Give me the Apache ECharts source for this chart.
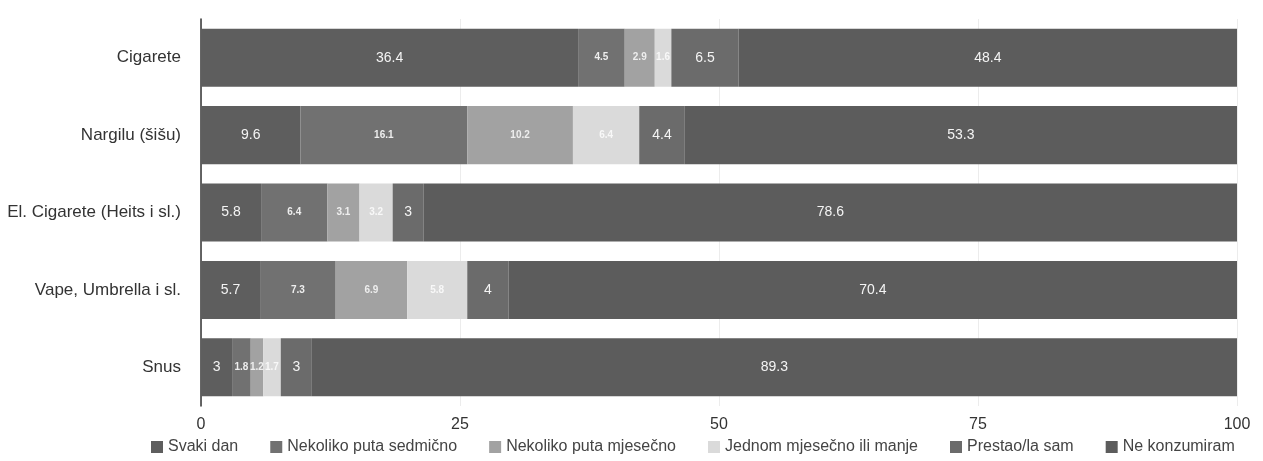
<!DOCTYPE html>
<html>
<head>
<meta charset="utf-8">
<script src="https://cdn.jsdelivr.net/npm/echarts@6/dist/echarts.min.js"></script>
<style>html,body{margin:0;padding:0;background:#fff;}#c{width:1263px;height:461px;}</style>
</head>
<body>
<div id="c"></div>
<script>
var categories = ['Cigarete', 'Nargilu (šišu)', 'El. Cigarete (Heits i sl.)', 'Vape, Umbrella i sl.', 'Snus'];
var seriesNames = ['Svaki dan', 'Nekoliko puta sedmično', 'Nekoliko puta mjesečno', 'Jednom mjesečno ili manje', 'Prestao/la sam', 'Ne konzumiram'];
var svakiDan = [36.4, 9.6, 5.8, 5.7, 3];
var sedmicno = [4.5, 16.1, 6.4, 7.3, 1.8];
var mjesecno = [2.9, 10.2, 3.1, 6.9, 1.2];
var jednom = [1.6, 6.4, 3.2, 5.8, 1.7];
var prestao = [6.5, 4.4, 3, 4, 3];
var neKonzumiram = [48.4, 53.3, 78.6, 70.4, 89.3];
var xTicks = [0, 25, 50, 75, 100];

var values = [svakiDan, sedmicno, mjesecno, jednom, prestao, neKonzumiram];
var colors = ['#5e5e5e', '#717171', '#a2a2a2', '#dadada', '#6b6b6b', '#5c5c5c'];
var labelSizes = [14, 10, 10, 10, 14, 14];
var labelColors = ['#f4f4f4', '#eeeeee', '#eeeeee', '#f8f8f8', '#f4f4f4', '#f4f4f4'];
var FONT = 'Liberation Sans, Arial, sans-serif';

var chart = echarts.init(document.getElementById('c'), null, {renderer: 'canvas'});
var series = values.map(function (arr, i) {
  return {
    name: seriesNames[i],
    type: 'bar',
    stack: 'total',
    barWidth: '75%',
    data: arr,
    itemStyle: {color: colors[i]},
    label: {
      show: true,
      position: 'inside',
      color: labelColors[i],
      fontSize: labelSizes[i],
      fontFamily: FONT,
      fontWeight: i >= 1 && i <= 3 ? 'bold' : 'normal'
    }
  };
});

chart.setOption({
  animation: false,
  backgroundColor: '#ffffff',
  textStyle: {fontFamily: FONT},
  grid: {left: 201, right: 26, top: 19, bottom: 55, containLabel: false},
  legend: {
    data: seriesNames,
    top: 434,
    left: 146,
    itemWidth: 12,
    itemHeight: 12,
    itemGap: 32,
    icon: 'rect',
    textStyle: {color: '#444', fontSize: 16, fontFamily: FONT}
  },
  xAxis: {
    type: 'value',
    min: 0,
    max: 100,
    interval: 25,
    axisLine: {show: false},
    axisTick: {show: false},
    splitLine: {show: true, lineStyle: {color: '#ececec', width: 1}},
    axisLabel: {
      color: '#333',
      fontSize: 16,
      margin: 11,
      formatter: function (v) { return xTicks.indexOf(v) >= 0 ? String(v) : ''; }
    }
  },
  yAxis: {
    type: 'category',
    data: categories,
    inverse: true,
    axisLine: {show: true, lineStyle: {color: '#333', width: 1.5}},
    axisTick: {show: false},
    axisLabel: {color: '#333', fontSize: 17, margin: 20}
  },
  series: series
});
</script>
</body>
</html>
